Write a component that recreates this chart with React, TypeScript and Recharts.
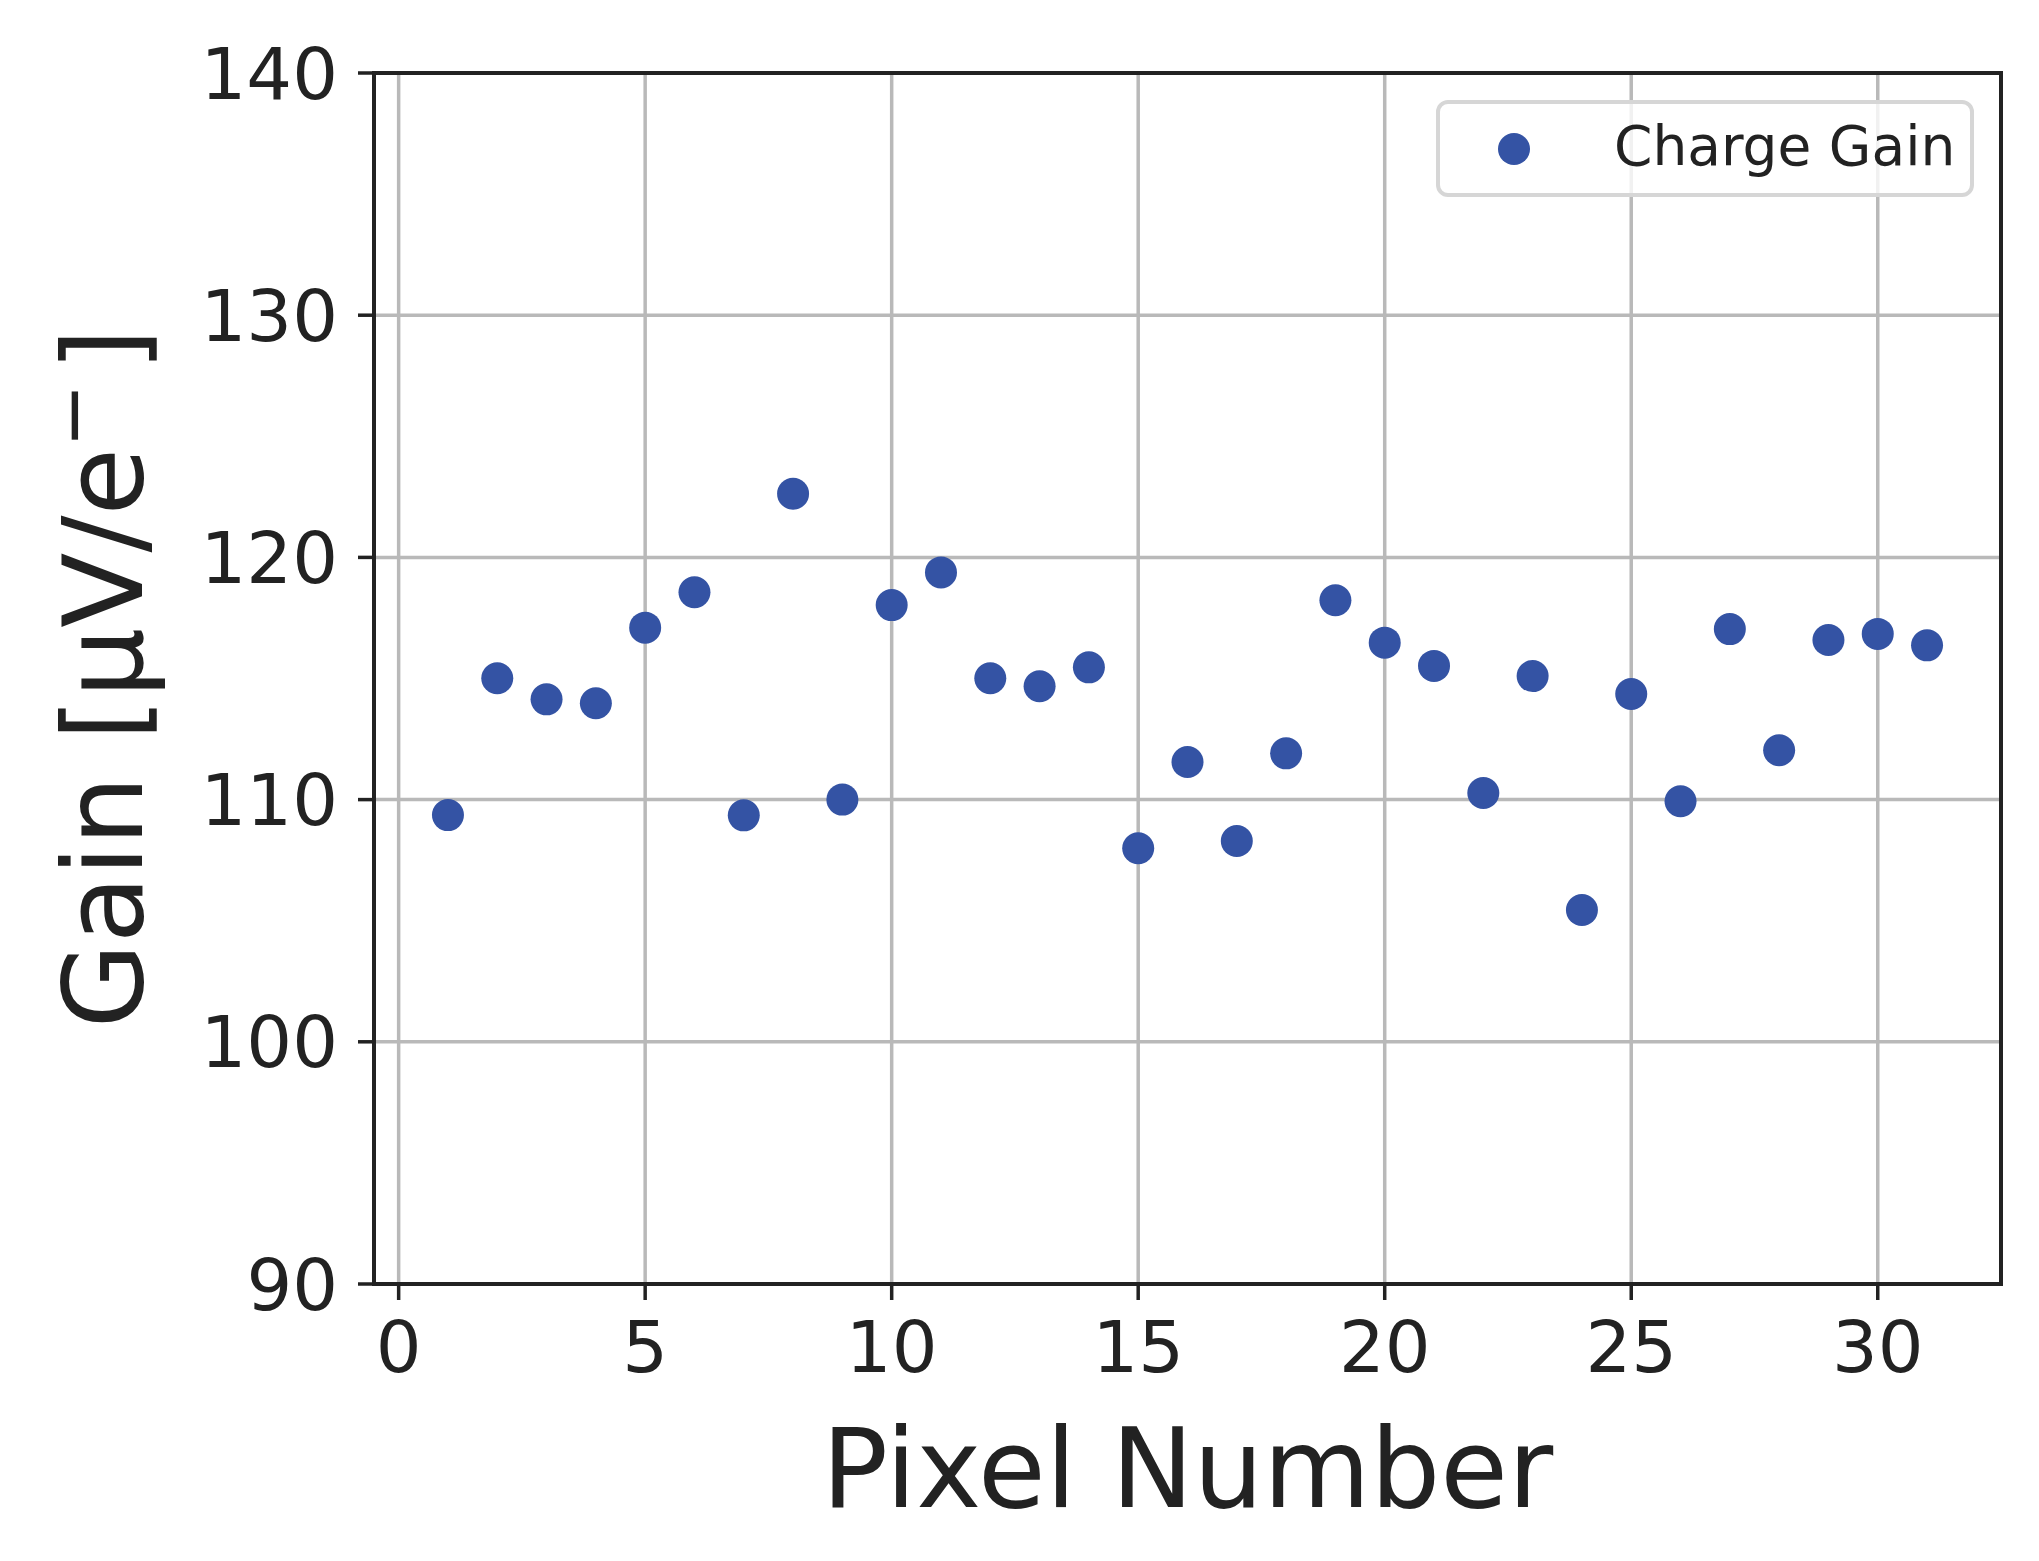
import React from 'react';
import {
  ScatterChart, Scatter, XAxis, YAxis, CartesianGrid, Legend, ReferenceArea,
} from 'recharts';

const pixelNumbers = [
  1, 2, 3, 4, 5, 6, 7, 8, 9, 10, 11, 12, 13, 14, 15, 16,
  17, 18, 19, 20, 21, 22, 23, 24, 25, 26, 27, 28, 29, 30, 31,
];
const chargeGain = [
  109.36, 115.01, 114.14, 113.98, 117.1, 118.56, 109.35, 122.63, 110.0, 118.03, 119.38,
  115.01, 114.68, 115.46, 107.99, 111.55, 108.29, 111.91, 118.23, 116.48, 115.52,
  110.27, 115.1, 105.44, 114.36, 109.93, 117.04, 112.04, 116.59, 116.84, 116.37,
];
const xTicks = [0, 5, 10, 15, 20, 25, 30];
const yTicks = [90, 100, 110, 120, 130, 140];
const xDomain = [-0.5, 32.5];
const yDomain = [90, 140];

const seriesName = 'Charge Gain';
const DOT = '#3453a4';
const INK = '#222222';
const FONT = 'DejaVu Sans';

const data = pixelNumbers.map((p, i) => ({ pixel: p, gain: chargeGain[i] }));

const renderDot = (props: any) => (
  <circle cx={props.cx} cy={props.cy} r={16} fill={DOT} />
);

const YLabel = ({ viewBox }: any) => {
  const cx = viewBox.x + 68;
  const cy = viewBox.y + viewBox.height / 2;
  return (
    <text
      x={cx}
      y={cy}
      transform={`rotate(-90 ${cx} ${cy})`}
      textAnchor="middle"
      fontFamily={FONT}
      fontSize={110}
      fill={INK}
    >
      Gain [µV/e
      <tspan dy={-43} fontSize={77}>−</tspan>
      <tspan dy={43} dx={12}>]</tspan>
    </text>
  );
};

const XLabel = ({ viewBox }: any) => (
  <text
    x={viewBox.x + viewBox.width / 2}
    y={viewBox.y + 223}
    textAnchor="middle"
    fontFamily={FONT}
    fontSize={110}
    fill={INK}
  >
    Pixel Number
  </text>
);

const LegendBox = ({ payload }: any) => (
  <svg width={538} height={97}>
    <rect x={2} y={2} width={534} height={93} rx={10}
      fill="#ffffff" fillOpacity={0.8} stroke="#d6d6d6" strokeWidth={4} />
    {(payload || []).map((entry: any) => (
      <g key={entry.value}>
        <circle cx={78} cy={49} r={16} fill={DOT} />
        <text x={178} y={65} fontFamily={FONT} fontSize={55} fill={INK}>{entry.value}</text>
      </g>
    ))}
  </svg>
);

export default function App() {
  const tickStyle = { fontSize: 72, fill: INK, fontFamily: FONT };
  return (
    <div style={{ position: 'absolute', left: 0, top: 0, background: '#fff' }}>
      <ScatterChart
        width={2039}
        height={1561}
        margin={{ top: 73, right: 38, bottom: 27, left: 74 }}
      >
        <CartesianGrid stroke="#b9b9b9" strokeWidth={3.5} />
        <XAxis
          type="number"
          dataKey="pixel"
          domain={xDomain}
          ticks={xTicks}
          allowDataOverflow
          height={250}
          tick={tickStyle}
          tickSize={16}
          tickMargin={21}
          tickLine={{ stroke: INK, strokeWidth: 3.5 }}
          axisLine={{ stroke: INK, strokeWidth: 4 }}
          label={<XLabel />}
        />
        <YAxis
          type="number"
          dataKey="gain"
          domain={yDomain}
          ticks={yTicks}
          allowDataOverflow
          width={300}
          tick={tickStyle}
          tickSize={16}
          tickMargin={20}
          tickLine={{ stroke: INK, strokeWidth: 3.5 }}
          axisLine={{ stroke: INK, strokeWidth: 4 }}
          label={<YLabel />}
        />
        <Scatter
          name={seriesName}
          data={data}
          fill={DOT}
          shape={renderDot}
          isAnimationActive={false}
        />
        <ReferenceArea
          x1={xDomain[0]}
          x2={xDomain[1]}
          y1={yDomain[0]}
          y2={yDomain[1]}
          fill="none"
          stroke={INK}
          strokeWidth={4}
          ifOverflow="visible"
        />
        <Legend
          layout="horizontal"
          verticalAlign="middle"
          align="center"
          content={<LegendBox />}
          wrapperStyle={{ left: 1436, top: 100, width: 538, height: 97 }}
        />
      </ScatterChart>
    </div>
  );
}
